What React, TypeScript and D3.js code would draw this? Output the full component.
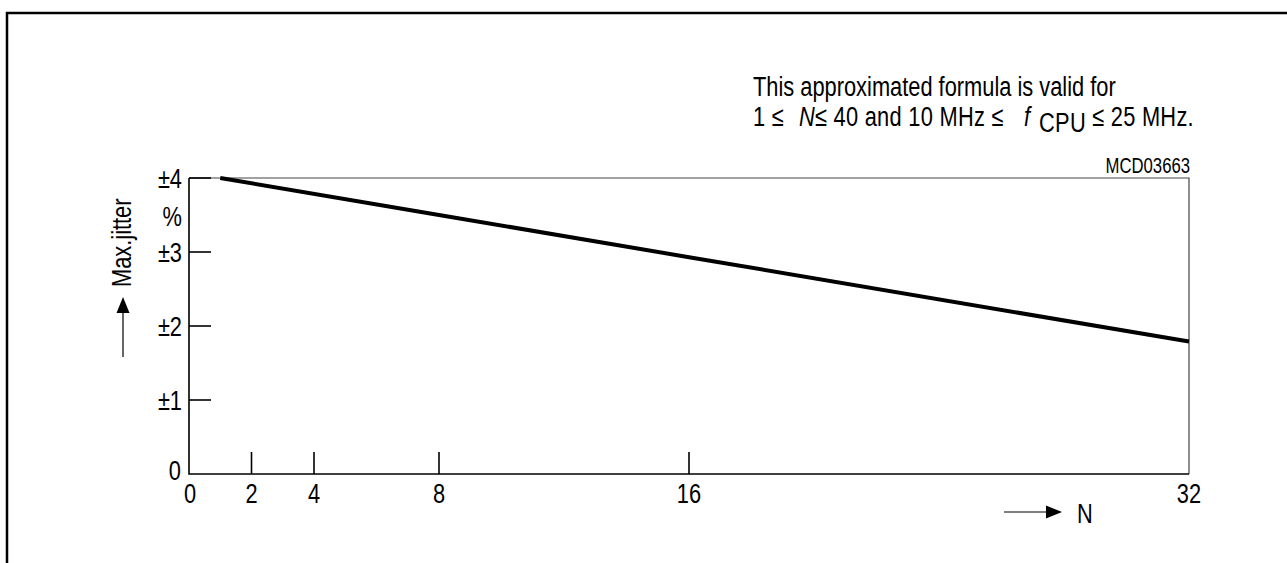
import * as d3 from 'd3'

// values (MCD03663)
const nTicks = [2, 4, 8, 16]
const nLabels = [0, 2, 4, 8, 16, 32]
const jitterTicks = [1, 2, 3, 4]
const jitterLabels = ['±1', '±2', '±3', '±4']
const nValues = [1, 8, 16, 32]
const jitterValues = [4, 3.5, 2.93, 1.79]

const W = 1287
const H = 563
const FONT = '"Liberation Sans", Arial, Helvetica, sans-serif'
const SQUEEZE = 0.78

function Txt({ x, y, size = 28, anchor = 'start', rotate = 0, squeeze = SQUEEZE, spacing = 0, children }) {
  const rot = rotate ? ` rotate(${rotate})` : ''
  return (
    <text
      transform={`translate(${x},${y})${rot} scale(${squeeze},1)`}
      fontSize={size}
      textAnchor={anchor}
      fontFamily={FONT}
      letterSpacing={spacing}
      fill="#000"
    >
      {children}
    </text>
  )
}

export default function App() {
  const x = d3.scaleLinear().domain([0, 32]).range([189, 1189])
  const y = d3.scaleLinear().domain([0, 4]).range([474, 178])
  const line = d3
    .line<number>()
    .x((d) => x(d))
    .y((_, i) => y(jitterValues[i]))
  const [x0, x1] = x.range()
  const [y0, y1] = y.range()
  const tickLen = 22

  return (
    <svg
      width={W}
      height={H}
      viewBox={`0 0 ${W} ${H}`}
      style={{ position: 'absolute', left: 0, top: 0, background: '#fff' }}
    >
      <rect width={W} height={H} fill="#fff" />
      {/* page frame */}
      <path d={`M7,${H} V13 H${W}`} fill="none" stroke="#000" strokeWidth={2.5} />

      {/* note */}
      <Txt x={753} y={96}>This approximated formula is valid for</Txt>
      <Txt x={753} y={126} spacing={0.35}>
        {'1 ≤ '}
        <tspan dx={11} fontStyle="italic">N</tspan>
        {'≤ 40 and 10 MHz ≤ '}
        <tspan dx={18} fontStyle="italic">f</tspan>
        <tspan dx={11} dy={6}>CPU</tspan>
        <tspan dx={8} dy={-6}>{'≤ 25 MHz.'}</tspan>
      </Txt>
      <Txt x={1190} y={173} size={22} squeeze={0.76} anchor="end">MCD03663</Txt>

      {/* plot box */}
      <path d={`M${x0},${y1} H${x1} V${y0}`} fill="none" stroke="#444" strokeWidth={1.2} />
      <path d={`M${x0},${y1} V${y0} H${x1}`} fill="none" stroke="#000" strokeWidth={1.6} />

      {/* y ticks */}
      {jitterTicks.map((v, i) => (
        <g key={v}>
          <line x1={x0} x2={x0 + tickLen} y1={y(v)} y2={y(v)} stroke="#000" strokeWidth={1.6} />
          <Txt x={182} y={y(v) + 10} anchor="end">{jitterLabels[i]}</Txt>
        </g>
      ))}
      <Txt x={181} y={480} anchor="end">0</Txt>
      <Txt x={182} y={226} anchor="end">%</Txt>

      {/* x ticks */}
      {nTicks.map((n) => (
        <line key={n} x1={x(n)} x2={x(n)} y1={y0} y2={y0 - tickLen} stroke="#000" strokeWidth={1.6} />
      ))}
      {nLabels.map((n) => (
        <Txt key={n} x={x(n) + (n === 0 ? 1 : 0)} y={503} anchor="middle">{n}</Txt>
      ))}

      {/* axis titles */}
      <Txt x={131} y={287} rotate={-90}>Max.jitter</Txt>
      <line x1={123} x2={123} y1={357} y2={311} stroke="#000" strokeWidth={1.2} />
      <path d="M123,297 L129.5,313 L116.5,313 Z" fill="#000" />
      <line x1={1004} x2={1048} y1={512} y2={512} stroke="#000" strokeWidth={1.2} />
      <path d="M1062,512 L1046,505.5 L1046,518.5 Z" fill="#000" />
      <Txt x={1077} y={523}>N</Txt>

      {/* curve */}
      <path d={line(nValues) || ''} fill="none" stroke="#000" strokeWidth={4} />
    </svg>
  )
}
